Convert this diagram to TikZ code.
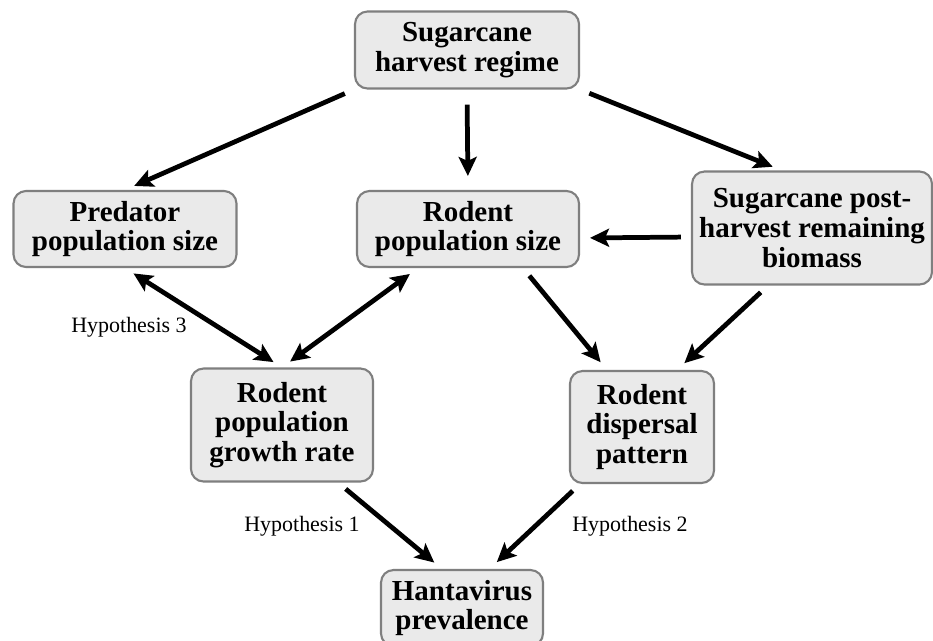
\documentclass[tikz,border=0pt]{standalone}
\usepackage{fontspec}
\setmainfont{Liberation Serif}
\usetikzlibrary{arrows.meta}
\definecolor{boxfill}{HTML}{EAEAEA}
\definecolor{boxline}{HTML}{7F7F7F}
\tikzset{
  box/.style={draw=boxline,fill=boxfill,line width=1.2pt,rounded corners=0.25cm,
    align=center,inner sep=0pt,font=\fontsize{16.5}{17}\selectfont\bfseries},
  link/.style={line width=2.7pt,-{Stealth[length=0.38cm,width=0.36cm,inset=0.08cm]},
    shorten <=0.2cm,shorten >=0.2cm},
  twoway/.style={link,{Stealth[length=0.38cm,width=0.36cm,inset=0.08cm]}-{Stealth[length=0.38cm,width=0.36cm,inset=0.08cm]}},
  hyp/.style={font=\fontsize{12.5}{14}\selectfont}
}
\begin{document}
\begin{tikzpicture}[x=0.02cm,y=-0.02cm]
\clip (0,0) rectangle (933,640);
\fill[white] (0,0) rectangle (933,640);
\node[box,minimum width=4.48cm,minimum height=1.54cm] (harvest) at (467,50) {Sugarcane\\harvest regime};
\node[box,minimum width=4.46cm,minimum height=1.52cm] (predator) at (125,229) {Predator\\population size};
\node[box,minimum width=4.44cm,minimum height=1.52cm] (rodent) at (468,229) {Rodent\\population size};
\node[box,minimum width=4.8cm,minimum height=2.26cm] (biomass) at (812,228) {Sugarcane post-\\harvest remaining\\biomass};
\node[box,minimum width=3.64cm,minimum height=2.26cm] (growth) at (282,425) {Rodent\\population\\growth rate};
\node[box,minimum width=2.88cm,minimum height=2.24cm] (dispersal) at (642,427) {Rodent\\dispersal\\pattern};
\node[box,minimum width=3.24cm,minimum height=1.52cm] (hanta) at (462,608) {Hantavirus\\prevalence};
\node[hyp] (h3) at (129,327) {Hypothesis 3};
\node[hyp] (h1) at (302,526) {Hypothesis 1};
\node[hyp] (h2) at (630,526) {Hypothesis 2};
% effects of the harvest regime
\path[link] (harvest.south west) edge (predator.north)
  (harvest.south) edge[shorten <=0.3cm,shorten >=0.28cm] (rodent.north)
  (harvest.south east) edge ([xshift=-0.6cm]biomass.north)
  ([yshift=-0.18cm]biomass.west) edge ([yshift=-0.18cm]rodent.east);
\path[twoway] (predator.south) edge (growth.north)
  ([xshift=-1cm]rodent.south) edge (growth.north);
\path[link] ([xshift=1.1cm]rodent.south) edge ([xshift=-0.7cm]dispersal.north)
  ([xshift=-0.88cm]biomass.south) edge ([xshift=0.7cm]dispersal.north)
  ([xshift=1.12cm]growth.south) edge ([xshift=-0.4cm]hanta.north)
  ([xshift=-1.24cm]dispersal.south) edge ([xshift=0.55cm]hanta.north);
\end{tikzpicture}
\end{document}
